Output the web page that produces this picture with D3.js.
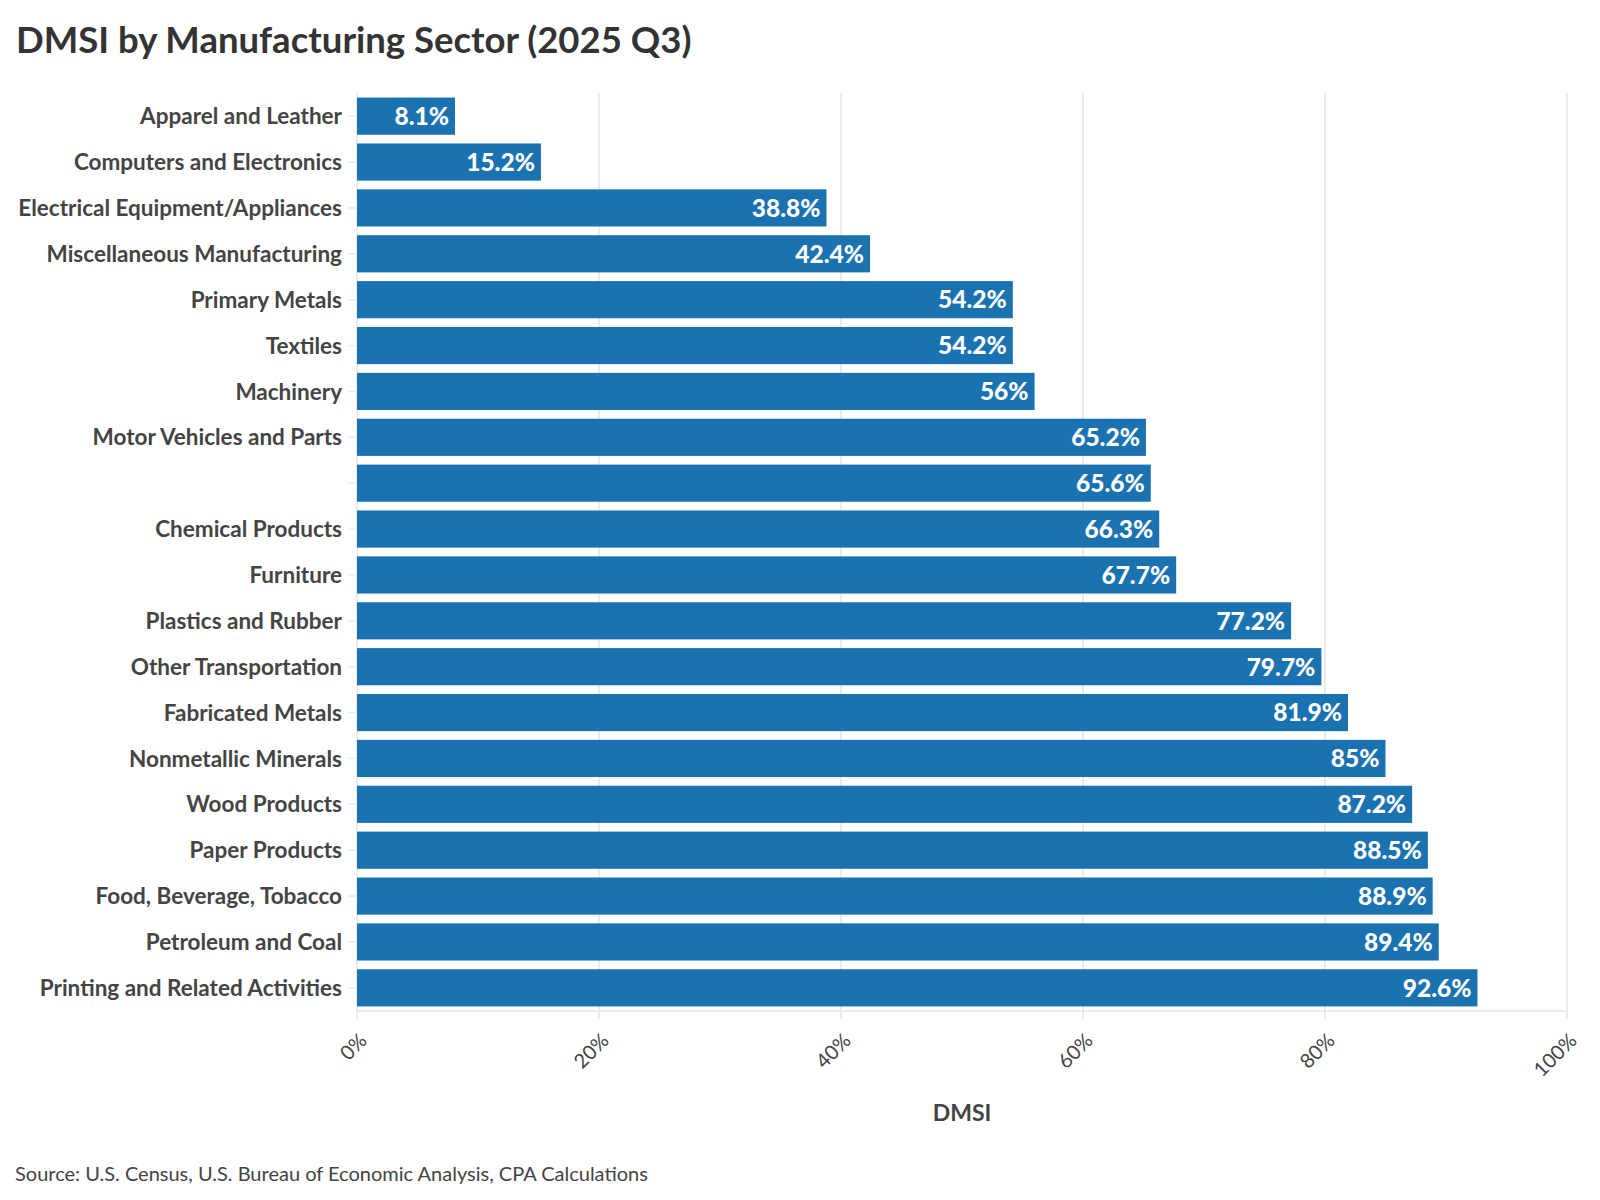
<!DOCTYPE html>
<html>
<head>
<meta charset="utf-8">
<script src="https://cdn.jsdelivr.net/npm/d3@7"></script>
<style>
  body { margin: 0; background: #fff; }
  text { font-family: Lato, "Noto Sans", sans-serif; }
</style>
</head>
<body>
<svg id="chart" width="1600" height="1200"></svg>
<script>
// data, top to bottom
const categories = [
    "Apparel and Leather",
    "Computers and Electronics",
    "Electrical Equipment/Appliances",
    "Miscellaneous Manufacturing",
    "Primary Metals",
    "Textiles",
    "Machinery",
    "Motor Vehicles and Parts",
    "",
    "Chemical Products",
    "Furniture",
    "Plastics and Rubber",
    "Other Transportation",
    "Fabricated Metals",
    "Nonmetallic Minerals",
    "Wood Products",
    "Paper Products",
    "Food, Beverage, Tobacco",
    "Petroleum and Coal",
    "Printing and Related Activities"
];
const dmsiValues = [8.1, 15.2, 38.8, 42.4, 54.2, 54.2, 56, 65.2, 65.6, 66.3, 67.7, 77.2, 79.7, 81.9, 85, 87.2, 88.5, 88.9, 89.4, 92.6];
const xTicks = [0, 20, 40, 60, 80, 100];
const tickLabels = ["0%", "20%", "40%", "60%", "80%", "100%"];

const svg = d3.select("#chart");
const plotLeft = 357, plotRight = 1567, plotTop = 93, plotBottom = 1011;

let x = d3.scaleLinear().domain([0, 100]).range([plotLeft, plotRight]);
let y = d3.scaleBand()
    .domain(d3.range(categories.length))
    .range([plotTop, plotBottom])
    .paddingInner(0.19)
    .paddingOuter(0.1);

// grid
svg.append('g')
    .selectAll('line')
    .data(xTicks)
    .join('line')
    .attr('x1', d => x(d))
    .attr('x2', d => x(d))
    .attr('y1', plotTop)
    .attr('y2', plotBottom + 8)
    .attr('stroke', '#ebebeb')
    .attr('stroke-width', 2);

svg.append('line')
    .attr('x1', plotLeft)
    .attr('x2', plotRight)
    .attr('y1', plotBottom)
    .attr('y2', plotBottom)
    .attr('stroke', '#ebebeb')
    .attr('stroke-width', 2);

// y ticks
svg.append('g')
    .selectAll('line')
    .data(d3.range(categories.length))
    .join('line')
    .attr('x1', plotLeft - 9)
    .attr('x2', plotLeft)
    .attr('y1', i => y(i) + y.bandwidth() / 2)
    .attr('y2', i => y(i) + y.bandwidth() / 2)
    .attr('stroke', '#ebebeb')
    .attr('stroke-width', 1.5);

// bars
svg.append('g')
    .selectAll('rect')
    .data(dmsiValues)
    .join('rect')
    .attr('x', x(0))
    .attr('y', (d, i) => y(i))
    .attr('width', d => x(d) - x(0))
    .attr('height', y.bandwidth())
    .attr('fill', '#1a72b0');

// bar labels
svg.append('g')
    .selectAll('text')
    .data(dmsiValues)
    .join('text')
    .attr('x', d => x(d) - 6)
    .attr('y', (d, i) => y(i) + y.bandwidth() / 2)
    .attr('dy', '0.36em')
    .attr('text-anchor', 'end')
    .attr('fill', 'white')
    .attr('font-weight', 900)
    .attr('font-size', 24.5)
    .text(d => d + '%');

// category labels
svg.append('g')
    .selectAll('text')
    .data(categories)
    .join('text')
    .attr('x', plotLeft - 15)
    .attr('y', (d, i) => y(i) + y.bandwidth() / 2)
    .attr('dy', '0.36em')
    .attr('text-anchor', 'end')
    .attr('fill', '#444')
    .attr('font-weight', 'bold')
    .attr('font-size', 22.5)
    .text(d => d);

// x tick labels
svg.append('g')
    .selectAll('text')
    .data(xTicks)
    .join('text')
    .attr('transform', d => `translate(${x(d) + 11},${plotBottom + 31}) rotate(-45)`)
    .attr('text-anchor', 'end')
    .attr('fill', '#444')
    .attr('font-size', 20)
    .text((d, i) => tickLabels[i]);

// axis title
svg.append('text')
    .attr('x', (plotLeft + plotRight) / 2)
    .attr('y', 1121)
    .attr('text-anchor', 'middle')
    .attr('fill', '#444')
    .attr('font-weight', 'bold')
    .attr('font-size', 23)
    .text('DMSI');

// title
svg.append('text')
    .attr('x', 16)
    .attr('y', 53)
    .attr('fill', '#333')
    .attr('font-weight', 'bold')
    .attr('font-size', 36.5)
    .text('DMSI by Manufacturing Sector (2025 Q3)');

// source
svg.append('text')
    .attr('x', 15)
    .attr('y', 1181)
    .attr('fill', '#444')
    .attr('font-size', 20)
    .text('Source: U.S. Census, U.S. Bureau of Economic Analysis, CPA Calculations');
</script>
</body>
</html>
